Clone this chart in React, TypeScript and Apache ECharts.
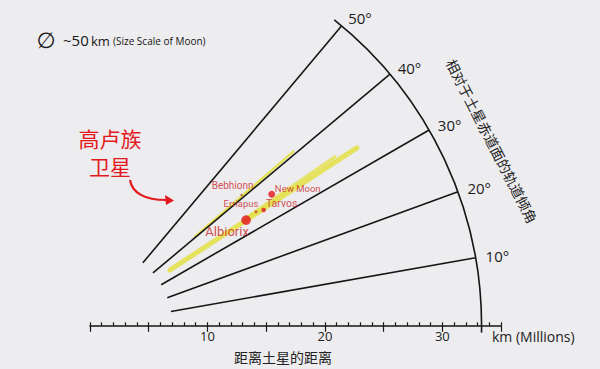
import React, { useEffect, useRef } from 'react';
import * as echarts from 'echarts';

// ---- data (million km, degrees) ----
const angleTicks = [10, 20, 30, 40, 50];
const angleTickLabels = ['10°', '20°', '30°', '40°', '50°'];
const rayInner = 7.0;
const rayOuter = 33.34;
const arcFrom = -1.0;
const arcTo = 51.4;
const labelRadius = 34.2;

const xMin = 0;
const xMax = 35;
const xLabelValues = [10, 20, 30];

const moonNames = ['Albiorix', 'Erriapus', 'Tarvos', 'New Moon', 'Bebhionn'];
const moonDistance = [16.05, 17.15, 17.77, 19.1, 17.05];
const moonInclination = [34.1, 34.5, 33.7, 35.9, 40.8];
const moonDiameterKm = [32, 10, 15, 23, 8];

const orbitStartDist = [8.3, 16.0, 11.73];
const orbitStartIncl = [34.9, 34.6, 40.3];
const orbitEndDist = [27.31, 25.33, 22.79];
const orbitEndIncl = [33.7, 34.6, 40.6];

// ---- layout / style ----
const PX = 11.745;
const OX = 90;
const OY = 325.8;
const KM_TO_PX = 0.3;
const BG = '#edecef';
const INK = '#161616';
const RED = '#e3191e';
const YELLOW = '#e2e03a';
const LATIN = "'Open Sans', 'DejaVu Sans', sans-serif";
const CJK = "'Noto Sans CJK SC', sans-serif";

const orbitWidths = [5, 3.5, 2.4];
const orbitOpacity = [0.8, 0.7, 0.85];
const moonColors = ['#e3141b', '#c9451f', '#dc1a1e', '#e3141b', '#a8432a'];
const moonLabelOffsets: number[][] = [[-19, 11], [-15, -8], [18, -6], [26, -6], [-9, -9]];
const moonLabelSizes = [13, 9.5, 10.5, 9.5, 10];

export default function App() {
  const ref = useRef<HTMLDivElement>(null);
  useEffect(() => {
    if (!ref.current) return;
    const chart = echarts.init(ref.current, undefined, { renderer: 'svg' });

    const raySeries = angleTicks.map((a) => ({
      type: 'line',
      coordinateSystem: 'polar',
      data: [[rayInner, a], [rayOuter, a]],
      symbol: 'none',
      silent: true,
      clip: false,
      z: 3,
      lineStyle: { color: INK, width: 1.6 },
    }));

    const orbitSeries = orbitStartDist.map((_, i) => ({
      type: 'line',
      coordinateSystem: 'polar',
      data: [[orbitStartDist[i], orbitStartIncl[i]], [orbitEndDist[i], orbitEndIncl[i]]],
      symbol: 'none',
      silent: true,
      clip: false,
      z: 2,
      lineStyle: { color: YELLOW, width: orbitWidths[i], opacity: orbitOpacity[i], cap: 'round' },
    }));

    const option: any = {
      animation: false,
      backgroundColor: BG,
      grid: { left: OX, width: (xMax - xMin) * PX, bottom: 369 - OY, top: 10 },
      polar: { center: [OX, OY], radius: rayOuter * PX },
      angleAxis: {
        type: 'value', min: 0, max: 360, startAngle: 0, clockwise: false,
        axisLine: { show: false }, axisTick: { show: false }, axisLabel: { show: false }, splitLine: { show: false },
      },
      radiusAxis: {
        type: 'value', min: 0, max: rayOuter,
        axisLine: { show: false }, axisTick: { show: false }, axisLabel: { show: false }, splitLine: { show: false },
      },
      xAxis: [
        {
          type: 'value', min: xMin, max: xMax, interval: 1, position: 'bottom',
          axisLine: { show: true, lineStyle: { color: INK, width: 1.6 } },
          axisTick: { show: true, inside: true, length: 3.5, lineStyle: { color: INK, width: 1.2 } },
          axisLabel: {
            margin: 4, fontSize: 13, color: '#222', fontFamily: LATIN,
            formatter: (v: number) => (xLabelValues.indexOf(v) >= 0 ? String(v) : ''),
          },
          splitLine: { show: false },
        },
        {
          type: 'value', min: xMin, max: xMax, interval: 5, position: 'bottom', offset: 0,
          axisLine: { show: false },
          axisTick: { show: true, inside: false, length: 6, lineStyle: { color: INK, width: 1.2 } },
          axisLabel: { show: false },
          splitLine: { show: false },
        },
      ],
      yAxis: { type: 'value', min: 0, max: 1, show: false },
      series: [
        ...orbitSeries,
        ...raySeries,
        {
          type: 'custom',
          coordinateSystem: 'polar',
          data: [[rayOuter, 0]],
          silent: true,
          z: 3,
          renderItem: (params: any, api: any) => {
            const c = api.coord([0, 0]);
            const e = api.coord([api.value(0), 0]);
            const r = Math.hypot(e[0] - c[0], e[1] - c[1]);
            return {
              type: 'arc',
              shape: {
                cx: c[0], cy: c[1], r,
                startAngle: (-arcTo * Math.PI) / 180,
                endAngle: (-arcFrom * Math.PI) / 180,
                clockwise: true,
              },
              style: { stroke: INK, lineWidth: 1.6, fill: null },
            };
          },
        },
        {
          type: 'custom',
          coordinateSystem: 'polar',
          data: angleTicks.map((a) => [labelRadius, a]),
          silent: true,
          z: 4,
          renderItem: (params: any, api: any) => {
            const p = api.coord([api.value(0), api.value(1)]);
            return {
              type: 'text',
              x: p[0],
              y: p[1],
              style: {
                text: angleTickLabels[params.dataIndex],
                fill: '#1c1c1c',
                fontSize: 15,
                fontFamily: LATIN,
                align: 'left',
                verticalAlign: 'middle',
              },
            };
          },
        },
        {
          type: 'scatter',
          coordinateSystem: 'polar',
          z: 5,
          silent: true,
          data: moonNames.map((n, i) => ({
            name: n,
            value: [moonDistance[i], moonInclination[i]],
            itemStyle: { color: moonColors[i] },
            label: { offset: moonLabelOffsets[i], fontSize: moonLabelSizes[i] },
          })),
          symbol: 'circle',
          symbolSize: (_v: any, p: any) => moonDiameterKm[p.dataIndex] * KM_TO_PX,
          label: {
            show: true,
            position: 'inside',
            align: 'center',
            verticalAlign: 'middle',
            formatter: (p: any) => p.name,
            color: '#c92428',
            fontFamily: "Roboto, 'Open Sans', sans-serif",
          },
        },
      ],
      graphic: [
        { type: 'text', x: 46, y: 40, style: { text: '∅', fontSize: 22, fill: INK, fontFamily: "'DejaVu Sans', sans-serif", align: 'center', verticalAlign: 'middle' } },
        { type: 'text', x: 63, y: 40, style: { text: '~50', fontSize: 15, fill: INK, fontFamily: LATIN, align: 'left', verticalAlign: 'middle' } },
        { type: 'text', x: 91, y: 41, style: { text: 'km', fontSize: 13, fill: INK, fontFamily: LATIN, align: 'left', verticalAlign: 'middle' } },
        { type: 'text', x: 113, y: 41, style: { text: '(Size Scale of Moon)', fontSize: 10, fill: INK, fontFamily: LATIN, align: 'left', verticalAlign: 'middle' } },
        { type: 'text', x: 110, y: 138, style: { text: '高卢族', fontSize: 21, fill: RED, fontFamily: CJK, align: 'center', verticalAlign: 'middle' } },
        { type: 'text', x: 110, y: 166, style: { text: '卫星', fontSize: 21, fill: RED, fontFamily: CJK, align: 'center', verticalAlign: 'middle' } },
        {
          type: 'bezierCurve',
          shape: { x1: 130, y1: 180, cpx1: 132, cpy1: 193, cpx2: 145, cpy2: 200, x2: 166, y2: 200 },
          style: { stroke: RED, lineWidth: 2.2, fill: null },
        },
        { type: 'polygon', shape: { points: [[174, 200.5], [165, 195], [166, 205]] }, style: { fill: RED } },
        {
          type: 'text', x: 492, y: 141, rotation: (-62.9 * Math.PI) / 180,
          style: { text: '相对于土星赤道面的轨道倾角', fontSize: 14, fill: '#222', fontFamily: CJK, align: 'center', verticalAlign: 'middle' },
        },
        { type: 'text', x: 492, y: 336, style: { text: 'km (Millions)', fontSize: 14, fill: '#222', fontFamily: LATIN, align: 'left', verticalAlign: 'middle' } },
        { type: 'text', x: 283, y: 357, style: { text: '距离土星的距离', fontSize: 14, fill: '#222', fontFamily: CJK, align: 'center', verticalAlign: 'middle' } },
      ],
    };

    chart.setOption(option);
    return () => chart.dispose();
  }, []);

  return <div ref={ref} style={{ position: 'fixed', left: 0, top: 0, width: 600, height: 369 }} />;
}
